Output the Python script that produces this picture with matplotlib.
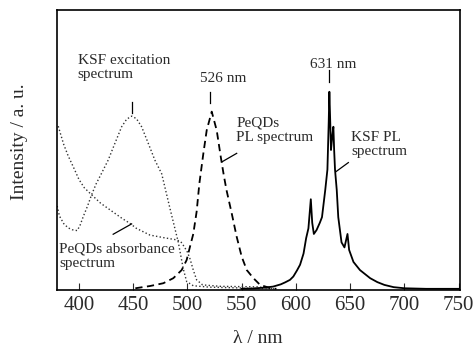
import matplotlib
matplotlib.use("Agg")
from matplotlib import pyplot as plt

plt.rcParams['font.family'] = ['Liberation Serif', 'DejaVu Serif']

# KSF PL spectrum (solid)
ksf_pl_x = [550, 560, 570, 579, 586, 590, 594.5, 597.6, 601, 603.8, 607, 609.4, 611.5, 613.7, 615, 616.5,
            619, 622, 624, 627, 629, 630.2, 630.8, 631.6, 632.3, 633.5, 634.5, 635.2, 636, 637.6, 639, 642,
            644.7, 647.5, 649, 653, 659, 668.4, 675, 681.5, 690, 700, 720, 750]
ksf_pl_y = [0.004, 0.005, 0.008, 0.012, 0.02, 0.027, 0.036, 0.048, 0.07, 0.09, 0.13, 0.185, 0.22, 0.324, 0.24, 0.2,
            0.214, 0.24, 0.26, 0.357, 0.43, 0.6, 0.708, 0.6, 0.5, 0.55, 0.583, 0.5, 0.43, 0.357, 0.26, 0.17,
            0.152, 0.2, 0.143, 0.10, 0.071, 0.042, 0.028, 0.018, 0.01, 0.006, 0.004, 0.004]

# PeQDs PL spectrum (dashed)
pe_pl_x = [452, 465.5, 477.8, 487, 494.7, 499.3, 502.4, 505.4, 508.5, 511, 514.7, 517.8, 522.4, 527, 530.7,
           533.5, 536, 540.8, 545.4, 550, 554.7, 560.8, 567, 576, 582]
pe_pl_y = [0.006, 0.014, 0.024, 0.042, 0.071, 0.107, 0.155, 0.2, 0.28, 0.38, 0.488, 0.571, 0.637, 0.57, 0.476,
           0.41, 0.357, 0.274, 0.19, 0.119, 0.071, 0.042, 0.018, 0.007, 0.004]

# KSF excitation spectrum (dotted)
exc_x = [380, 382, 386, 390, 394, 398.4, 401, 404, 408, 411.7, 416, 420, 427, 433.2, 439.4, 444, 448.6, 453,
         457.8, 463.9, 470, 476.3, 484, 491.6, 496.2, 499.3, 505.4, 520, 560, 580]
exc_y = [0.30, 0.265, 0.237, 0.222, 0.215, 0.212, 0.23, 0.262, 0.30, 0.34, 0.38, 0.41, 0.464, 0.524, 0.583,
         0.61, 0.621, 0.612, 0.583, 0.524, 0.464, 0.415, 0.29, 0.17, 0.075, 0.03, 0.015, 0.01, 0.006, 0.004]

# PeQDs absorbance spectrum (dotted)
abs_x = [381, 382.5, 386, 390, 396, 400, 405, 411.7, 420, 428, 440, 447, 453, 465.5, 477.8, 490, 494, 497,
         500, 502.5, 505.4, 508.5, 514, 530, 565, 578]
abs_y = [0.585, 0.565, 0.52, 0.48, 0.43, 0.395, 0.365, 0.34, 0.31, 0.288, 0.255, 0.238, 0.22, 0.196, 0.187,
         0.179, 0.172, 0.155, 0.135, 0.11, 0.071, 0.036, 0.018, 0.013, 0.011, 0.005]

x_ticks = [400, 450, 500, 550, 600, 650, 700, 750]

txt_color = '#2a2a2a'

fig = plt.figure(figsize=(4.76, 3.46), dpi=100)
ax = fig.add_axes([0.119, 0.162, 0.847, 0.809])

ax.plot(exc_x, exc_y, color='#333333', linestyle=':', linewidth=1.0)
ax.plot(abs_x, abs_y, color='#333333', linestyle=':', linewidth=1.0)
ax.plot(pe_pl_x, pe_pl_y, color='black', linestyle=(0, (4, 2.5)), linewidth=1.3)
ax.plot(ksf_pl_x, ksf_pl_y, color='black', linestyle='-', linewidth=1.3)

ax.set_xlim(379.5, 751)
ax.set_ylim(0, 1)
ax.set_xticks(x_ticks)
ax.set_yticks([])
ax.tick_params(axis='x', direction='in', length=5, width=0.8, labelsize=15, pad=4, colors=txt_color)
for s in ax.spines.values():
    s.set_linewidth(1.2)

ax.set_xlabel('λ / nm', fontsize=14, color=txt_color, labelpad=11)
ax.set_ylabel('Intensity / a. u.', fontsize=14, color=txt_color)
ax.yaxis.set_label_coords(-0.07, 0.53)

# annotations
fs = 11
ax.text(399, 0.795, 'KSF excitation\nspectrum', fontsize=fs, color=txt_color, va='center', ha='left', linespacing=1.1)
ax.plot([448.6, 448.6], [0.632, 0.672], color='black', linewidth=0.9)

ax.text(511.6, 0.755, '526 nm', fontsize=fs, color=txt_color, va='center', ha='left')
ax.plot([521, 521], [0.667, 0.708], color='black', linewidth=0.9)

ax.text(613, 0.805, '631 nm', fontsize=fs, color=txt_color, va='center', ha='left')
ax.plot([630.3, 630.3], [0.744, 0.786], color='black', linewidth=0.9)

ax.text(545, 0.57, 'PeQDs\nPL spectrum', fontsize=fs, color=txt_color, va='center', ha='left', linespacing=1.1)
ax.plot([532, 545.4], [0.458, 0.488], color='black', linewidth=0.9)

ax.text(651, 0.52, 'KSF PL\nspectrum', fontsize=fs, color=txt_color, va='center', ha='left', linespacing=1.1)
ax.plot([637, 648.3], [0.423, 0.455], color='black', linewidth=0.9)

ax.text(382, 0.12, 'PeQDs absorbance\nspectrum', fontsize=fs, color=txt_color, va='center', ha='left', linespacing=1.1)
ax.plot([431.6, 448.6], [0.199, 0.236], color='black', linewidth=0.9)

plt.savefig('out.png', dpi=100)
